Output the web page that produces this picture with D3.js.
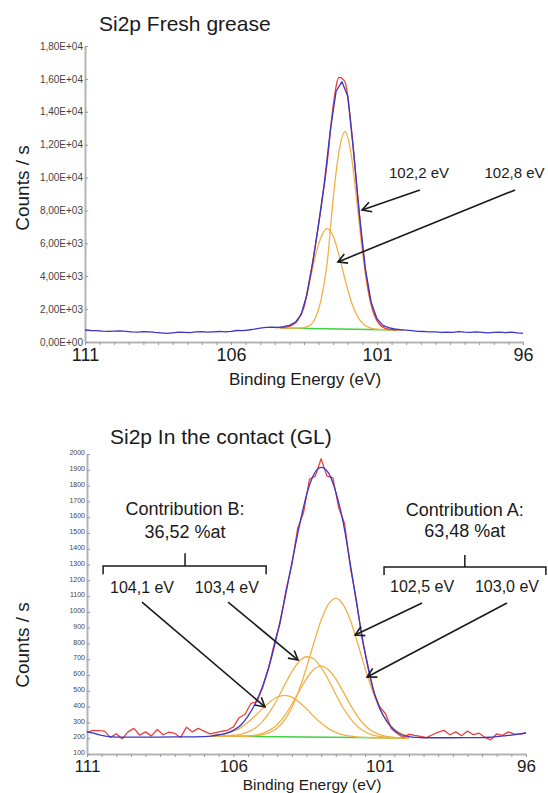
<!DOCTYPE html>
<html>
<head>
<meta charset="utf-8">
<script src="https://cdn.jsdelivr.net/npm/d3@7"></script>
<style>
  body { margin: 0; background: #fff; }
  svg { display: block; font-family: "Liberation Sans", Arial, sans-serif; }
</style>
</head>
<body>
<div id="chart"></div>
<script>
// ---- data (binding energy in eV, intensity in counts/s) ----
const xTickLabels = [111, 106, 101, 96];
const freshYTicks = [0, 2000, 4000, 6000, 8000, 10000, 12000, 14000, 16000, 18000];
const contactYTicks = [100, 200, 300, 400, 500, 600, 700, 800, 900, 1000, 1100, 1200, 1300, 1400, 1500, 1600, 1700, 1800, 1900, 2000];

const rawEv = [111.0,110.8,110.6,110.4,110.2,110.0,109.8,109.6,109.4,109.2,109.0,108.8,108.6,108.4,108.2,108.0,107.8,107.6,107.4,107.2,
  107.0,106.8,106.6,106.4,106.2,106.0,105.8,105.6,105.4,105.2,105.0,104.8,104.6,104.4,104.2,104.0,103.8,103.6,103.4,103.2,
  103.0,102.8,102.6,102.4,102.2,102.0,101.8,101.6,101.4,101.2,101.0,100.8,100.6,100.4,100.2,100.0,99.8,99.6,99.4,99.2,
  99.0,98.8,98.6,98.4,98.2,98.0,97.8,97.6,97.4,97.2,97.0,96.8,96.6,96.4,96.2,96.0];

// Si2p fresh grease
const freshRaw = [730,700,690,660,640,660,680,650,610,600,630,620,580,560,520,560,600,590,570,620,
  630,600,620,640,610,640,700,690,730,780,850,890,900,890,940,1010,1190,1660,2880,4850,
  7170,9720,12850,15250,15830,14950,11550,7720,4480,2420,1420,1010,870,790,750,720,690,650,640,610,
  620,580,600,590,630,600,580,610,590,560,580,600,570,600,560,530];
const freshFitEv = [104.5,104.3,104.1,103.9,103.7,103.5,103.3,103.1,102.9,102.7,102.5,102.3,102.1,101.9,101.7,101.5,101.3,101.1,100.9,100.7,100.5,100.3,100.1];
const freshFit = [880,870,921,1043,1366,2154,3880,5986,8342,10998,14386,16090,15834,13378,9604,5879,3191,1704,1050,821,752,733,725];
const freshCompEv = [104.3,104.1,103.9,103.7,103.5,103.3,103.1,102.9,102.7,102.5,102.3,102.1,101.9,101.7,101.5,101.3,101.1,100.9,100.7,100.5,100.3];
const fresh1022 = [850,845,841,848,880,1000,1500,2700,4900,8736,11610,12784,11598,8712,5496,3050,1660,1038,818,752,733];
const fresh1028 = [870,920,1040,1350,2100,3700,5300,6450,6900,6446,5270,3834,2558,1664,1149,901,798,760,745,736,730];
const freshBgEv = [104.3, 100.3];
const freshBg = [850, 730];

// Si2p in the contact (GL)
const contactRaw = [236,250,248,245,205,228,196,240,262,220,240,215,255,222,238,230,205,270,240,262,
  245,228,236,244,250,272,330,352,420,430,520,640,800,930,1140,1300,1530,1630,1840,1860,
  1970,1860,1850,1660,1560,1280,1080,830,660,490,400,355,260,230,205,225,218,212,204,222,
  238,250,222,240,216,246,222,232,205,190,228,218,240,226,228,234];
const contactFitEv = [111.0,110.75,110.5,110.25,110.0,109.0,108.0,107.0,106.75,106.5,106.25,106.0,105.75,105.5,105.25,105.0,104.75,104.5,104.25,104.0,
  103.75,103.5,103.25,103.0,102.75,102.5,102.25,102.0,101.75,101.5,101.25,101.0,100.75,100.5,100.25,100.0,99.75,99.5,98.5,97.5,
  97.25,97.0,96.75,96.5,96.25,96.0];
const contactFit = [242,230,218,210,207,207,208,210,213,222,231,250,282,340,420,530,675,860,1075,1310,
  1540,1740,1870,1915,1880,1760,1570,1300,1010,740,530,390,305,252,222,210,205,203,203,204,
  206,210,215,220,226,233];
const contactCompEv = [106.75,106.5,106.25,106.0,105.75,105.5,105.25,105.0,104.75,104.5,104.25,104.0,103.75,103.5,103.25,103.0,102.75,102.5,102.25,102.0,
  101.75,101.5,101.25,101.0,100.75,100.5,100.25,100.0];
const contact1025 = [213,213,213,213,213,214,216,223,236,265,315,395,507,648,803,947,1049,1086,1048,945,800,644,502,389,308,257,227,213];
const contact1030 = [213,213,213,213,213,215,220,231,251,287,342,415,498,578,635,657,634,576,495,411,337,281,244,223,211,205,202,201];
const contact1034 = [214,214,215,219,225,240,265,307,368,447,536,622,686,716,702,649,569,478,393,324,273,241,221,211,205,203,201,201];
const contact1041 = [217,221,229,244,267,301,342,389,430,461,471,460,428,386,338,296,261,237,221,213,207,205,203,203,202,202,201,201];
const contactBgEv = [106.75, 100.0];
const contactBg = [214, 201];

// ---- drawing ----
const colors = { raw: "#e8413c", fit: "#3a36c8", comp: "#f2b045", bg: "#3fd13f", axis: "#b4b4b4", ink: "#1a1a1a" };

const svg = d3.select("#chart").append("svg")
  .attr("width", 548)
  .attr("height", 793);
svg.append("rect").attr("width", 548).attr("height", 793).attr("fill", "#fff");

const defs = svg.append("defs");
defs.append("marker")
  .attr("id", "head")
  .attr("viewBox", "0 0 12 12")
  .attr("refX", 10).attr("refY", 6)
  .attr("markerWidth", 12).attr("markerHeight", 12)
  .attr("markerUnits", "userSpaceOnUse")
  .attr("orient", "auto")
  .append("path")
  .attr("d", "M1,1 L10,6 L1,11")
  .attr("fill", "none")
  .attr("stroke", colors.ink)
  .attr("stroke-width", 1.6);

function sciLabel(d) {
  return d3.format(".2e")(d).replace(".", ",")
    .replace(/e([+-])(\d+)/, (m, s, n) => "E" + s + n.padStart(2, "0"));
}

function pairs(ev, vals) {
  return ev.map((e, i) => [e, vals[i]]);
}

function drawPanel(p) {
  const g = svg.append("g");
  const x = d3.scaleLinear().domain([111, 96]).range(p.xRange);
  const y = d3.scaleLinear().domain(p.yDomain).range(p.yRange);

  // x axis: minor ticks every 0.5 eV, big labels at 111/106/101/96
  const xa = g.append("g")
    .attr("transform", "translate(0," + p.yRange[0] + ")")
    .call(d3.axisBottom(x).tickValues(x.ticks(30)).tickSize(3).tickSizeOuter(0).tickFormat(""));
  xa.select(".domain").attr("stroke", colors.axis).attr("stroke-width", 2);
  xa.selectAll(".tick line").attr("stroke", "#999");

  const xl = g.append("g")
    .attr("transform", "translate(0," + p.yRange[0] + ")")
    .call(d3.axisBottom(x).tickValues(xTickLabels).tickSize(0).tickPadding(p.xLabelPad).tickFormat(d3.format("d")));
  xl.select(".domain").remove();
  xl.selectAll("text").attr("font-size", p.xTickFont).attr("fill", colors.ink)
    .attr("font-family", "Liberation Sans, Arial, sans-serif");

  // y axis
  const ya = g.append("g")
    .attr("transform", "translate(" + p.xRange[0] + ",0)")
    .call(d3.axisLeft(y).tickValues(p.yTicks).tickSizeInner(-3).tickSizeOuter(0).tickPadding(2).tickFormat(p.yFormat));
  ya.select(".domain").attr("stroke", colors.axis).attr("stroke-width", 2);
  ya.selectAll(".tick line").attr("stroke", "#999");
  ya.selectAll("text").attr("font-size", p.yFont).attr("fill", "#444")
    .attr("dy", p.yDy)
    .attr("font-family", "Liberation Sans, Arial, sans-serif");

  // curves
  const smooth = d3.line().x(d => x(d[0])).y(d => y(d[1])).curve(d3.curveMonotoneX);
  const jagged = d3.line().x(d => x(d[0])).y(d => y(d[1]));

  g.append("path").datum(p.bg).attr("d", jagged)
    .attr("fill", "none").attr("stroke", colors.bg).attr("stroke-width", 1.4);
  p.comps.forEach(c => {
    g.append("path").datum(c).attr("d", smooth)
      .attr("fill", "none").attr("stroke", colors.comp).attr("stroke-width", 1.3);
  });
  p.lines.forEach(l => {
    g.append("path").datum(l.data).attr("d", l.smooth ? smooth : jagged)
      .attr("fill", "none").attr("stroke", l.color).attr("stroke-width", 1.3)
      .attr("stroke-linejoin", "round");
  });

  // titles
  g.append("text").attr("x", p.titlePos[0]).attr("y", p.titlePos[1])
    .attr("font-size", 21).attr("fill", colors.ink).text(p.title);
  g.append("text")
    .attr("transform", "translate(29," + p.yLabelY + ") rotate(-90)")
    .attr("text-anchor", "middle").attr("font-size", 19).attr("fill", colors.ink)
    .text("Counts / s");
  g.append("text").attr("x", p.xLabelPos[0]).attr("y", p.xLabelPos[1])
    .attr("text-anchor", "middle").attr("font-size", p.xLabelFont).attr("fill", colors.ink)
    .text("Binding Energy (eV)");

  // annotations placed in data space
  p.arrows.forEach(a => {
    g.append("line")
      .attr("x1", x(a.from[0])).attr("y1", y(a.from[1]))
      .attr("x2", x(a.to[0])).attr("y2", y(a.to[1]))
      .attr("stroke", colors.ink).attr("stroke-width", 1.6)
      .attr("marker-end", "url(#head)");
  });
  p.notes.forEach(n => {
    g.append("text").attr("x", x(n.at[0])).attr("y", y(n.at[1]))
      .attr("text-anchor", "middle").attr("font-size", n.size).attr("fill", colors.ink)
      .text(n.text);
  });
  (p.brackets || []).forEach(b => {
    const x0 = x(b.ev[0]), x1 = x(b.ev[1]), xc = x(b.ev[2]);
    const yl = y(b.level[0]), ye = y(b.level[1]), yt = y(b.level[2]);
    g.append("path")
      .attr("d", `M${x0},${ye}L${x0},${yl}L${x1},${yl}L${x1},${ye}M${xc},${yl}L${xc},${yt}`)
      .attr("fill", "none").attr("stroke", colors.ink).attr("stroke-width", 1.5);
  });
}

drawPanel({
  title: "Si2p Fresh grease",
  titlePos: [99, 31],
  xRange: [85, 523],
  yDomain: [0, 18000],
  yRange: [342, 46],
  yTicks: freshYTicks,
  yFormat: sciLabel,
  yFont: 10,
  yDy: "0.32em",
  xTickFont: 18,
  xLabelPad: 6,
  xLabelFont: 17,
  yLabelY: 188,
  xLabelPos: [305, 385],
  bg: pairs(freshBgEv, freshBg),
  comps: [pairs(freshCompEv, fresh1022), pairs(freshCompEv, fresh1028)],
  lines: [
    { data: pairs(freshFitEv, freshFit), color: colors.raw, smooth: true },
    { data: pairs(rawEv, freshRaw), color: colors.fit, smooth: false }
  ],
  arrows: [
    { from: [99.53, 9250], to: [101.51, 8030] },
    { from: [96.27, 9250], to: [102.34, 4870] }
  ],
  notes: [
    { text: "102,2 eV", at: [99.56, 9980], size: 15 },
    { text: "102,8 eV", at: [96.29, 9980], size: 15 }
  ]
});

drawPanel({
  title: "Si2p In the contact (GL)",
  titlePos: [110, 444],
  xRange: [87, 526],
  yDomain: [100, 2000],
  yRange: [754, 454],
  yTicks: contactYTicks,
  yFormat: d3.format("d"),
  yFont: 7,
  yDy: "0.1em",
  xTickFont: 17,
  xLabelPad: 6,
  xLabelFont: 15.5,
  yLabelY: 645,
  xLabelPos: [312, 789.8],
  bg: pairs(contactBgEv, contactBg),
  comps: [pairs(contactCompEv, contact1025), pairs(contactCompEv, contact1030),
          pairs(contactCompEv, contact1034), pairs(contactCompEv, contact1041)],
  lines: [
    { data: pairs(rawEv, contactRaw), color: colors.raw, smooth: false },
    { data: pairs(contactFitEv, contactFit), color: colors.fit, smooth: true }
  ],
  arrows: [
    { from: [109.12, 1062], to: [104.92, 398] },
    { from: [106.18, 1062], to: [103.79, 695] },
    { from: [99.55, 1056], to: [101.84, 854] },
    { from: [96.65, 1056], to: [101.43, 588] }
  ],
  notes: [
    { text: "Contribution B:", at: [107.65, 1613], size: 18 },
    { text: "36,52 %at", at: [107.65, 1467], size: 18 },
    { text: "Contribution A:", at: [98.09, 1606], size: 18 },
    { text: "63,48 %at", at: [98.09, 1474], size: 18 },
    { text: "104,1 eV", at: [109.12, 1119], size: 16 },
    { text: "103,4 eV", at: [106.22, 1119], size: 16 },
    { text: "102,5 eV", at: [99.55, 1125], size: 16 },
    { text: "103,0 eV", at: [96.65, 1125], size: 16 }
  ],
  brackets: [
    { ev: [110.45, 104.88, 107.65], level: [1290, 1239, 1372] },
    { ev: [100.85, 95.32, 98.09], level: [1284, 1233, 1360] }
  ]
});
</script>
</body>
</html>
